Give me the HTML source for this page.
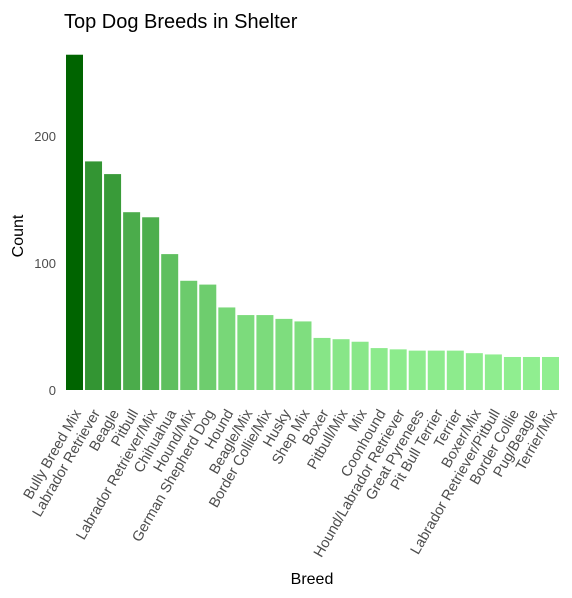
<!DOCTYPE html>
<html><head><meta charset="utf-8"><style>
body{margin:0;background:#fff;font-family:"Liberation Sans",Arial,sans-serif}
</style></head><body>
<svg id="chart" width="572" height="598" xmlns="http://www.w3.org/2000/svg" style="display:block">
<text x="64" y="28" font-size="20" fill="#000">Top Dog Breeds in Shelter</text>
<text transform="translate(23,236) rotate(-90)" text-anchor="middle" font-size="16" fill="#000">Count</text>
<text x="312" y="584" text-anchor="middle" font-size="16" fill="#000">Breed</text>
<g id="yticks"></g><g id="bars"></g><g id="xlabels"></g>
</svg>
<script>
const categories=["Bully Breed Mix","Labrador Retriever","Beagle","Pitbull","Labrador Retriever/Mix","Chihuahua","Hound/Mix","German Shepherd Dog","Hound","Beagle/Mix","Border Collie/Mix","Husky","Shep Mix","Boxer","Pitbull/Mix","Mix","Coonhound","Hound/Labrador Retriever","Great Pyrenees","Pit Bull Terrier","Terrier","Boxer/Mix","Labrador Retriever/Pitbull","Border Collie","Pug/Beagle","Terrier/Mix"];
const counts=[264,180,170,140,136,107,86,83,65,59,59,56,54,41,40,38,33,32,31,31,31,29,28,26,26,26];
const yTicks=[0,100,200];
const NS="http://www.w3.org/2000/svg";
const y0=390,k=1.27,x0=66,pitch=19.04,bw=17;
const ys=v=>y0-v*k, xs=i=>x0+i*pitch;
const mn=Math.min(...counts),mx=Math.max(...counts);
const lo=[144,238,144],hi=[0,100,0];
function col(v){const t=(v-mn)/(mx-mn);return "rgb("+lo.map((c,j)=>Math.round(c+(hi[j]-c)*t)).join(",")+")";}
const yt=document.getElementById("yticks");
yTicks.forEach(v=>{const t=document.createElementNS(NS,"text");


t.setAttribute("x",56);t.setAttribute("y",ys(v)+5);t.setAttribute("text-anchor","end");t.setAttribute("font-size","13");t.setAttribute("fill","#4d4d4d");t.textContent=v;yt.appendChild(t);});
const bg=document.getElementById("bars"),xl=document.getElementById("xlabels");
categories.forEach((c,i)=>{const r=document.createElementNS(NS,"rect");


r.setAttribute("x",xs(i));r.setAttribute("y",ys(counts[i]));r.setAttribute("width",bw);r.setAttribute("height",counts[i]*k);r.setAttribute("fill",col(counts[i]));bg.appendChild(r);
const t=document.createElementNS(NS,"text");


const cx=xs(i)+bw/2+7;t.setAttribute("transform","translate("+cx+",413) rotate(-60)");t.setAttribute("text-anchor","end");t.setAttribute("font-size","14.5");t.setAttribute("fill","#4d4d4d");t.textContent=c;xl.appendChild(t);});
</script>
</body></html>
